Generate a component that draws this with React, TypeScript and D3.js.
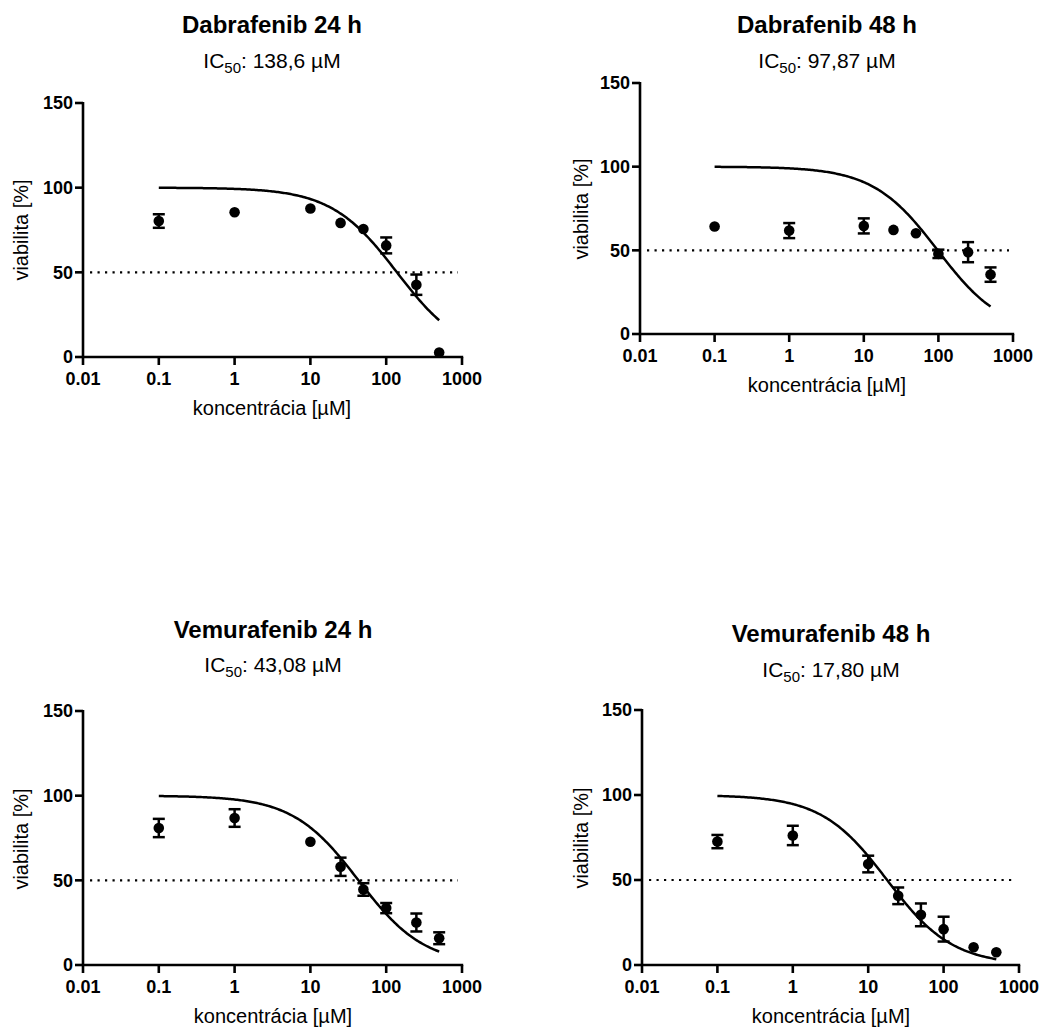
import React from "react";
import * as d3 from "d3";

const concentrations = [0.1, 1, 10, 25, 50, 100, 250, 500];

const dab24Mean = [80.3, 85.5, 87.7, 79.2, 75.6, 65.9, 42.7, 2.6];
const dab24Err = [4.0, 0, 0, 0, 0, 4.7, 6.0, 0];
const dab48Mean = [64.2, 61.8, 64.6, 62.2, 60.2, 47.9, 48.9, 35.5];
const dab48Err = [0, 4.5, 4.5, 0, 0, 2.5, 6.0, 4.3];
const vem24Mean = [80.9, 86.8, 72.8, 58.0, 44.6, 33.6, 25.1, 15.8];
const vem24Err = [5.4, 5.2, 0, 5.4, 3.7, 3.0, 5.3, 3.5];
const vem48Mean = [72.6, 76.2, 59.4, 40.7, 29.5, 21.1, 10.4, 7.5];
const vem48Err = [3.9, 5.7, 4.9, 4.9, 6.7, 7.3, 0, 0];

const titles = ["Dabrafenib 24 h", "Dabrafenib 48 h", "Vemurafenib 24 h", "Vemurafenib 48 h"];
const ic50Values = [138.6, 97.87, 43.08, 17.8];
const ic50Labels = ["138,6", "97,87", "43,08", "17,80"];

const xTicks = [0.01, 0.1, 1, 10, 100, 1000];
const xTickLabels = ["0.01", "0.1", "1", "10", "100", "1000"];
const yTicks = [0, 50, 100, 150];
const xLabel = "koncentrácia [µM]";
const yLabel = "viabilita [%]";

const means = [dab24Mean, dab48Mean, vem24Mean, vem48Mean];
const errs = [dab24Err, dab48Err, vem24Err, vem48Err];

const layouts = [
  { x0: 83, x1: 462, yTop: 103, yBot: 357, cx: 272, titleY: 33, subY: 68, yLabX: 28, yLabCY: 230, xLabY: 415 },
  { x0: 640, x1: 1013, yTop: 83, yBot: 334, cx: 827, titleY: 33, subY: 68, yLabX: 588, yLabCY: 209, xLabY: 392 },
  { x0: 83, x1: 462, yTop: 711, yBot: 965, cx: 273, titleY: 638, subY: 672, yLabX: 28, yLabCY: 839, xLabY: 1023 },
  { x0: 642, x1: 1019, yTop: 710, yBot: 965, cx: 831, titleY: 642, subY: 677, yLabX: 588, yLabCY: 838, xLabY: 1023 },
];

const FONT = "'Liberation Sans', Arial, Helvetica, sans-serif";

function Panel({ idx }: { idx: number }) {
  const L = layouts[idx];
  const x = d3.scaleLog().domain([0.01, 1000]).range([L.x0, L.x1]);
  const y = d3.scaleLinear().domain([0, 150]).range([L.yBot, L.yTop]);
  const ic50 = ic50Values[idx];
  const fit = (c: number) => 100 / (1 + c / ic50);
  const curvePts = d3.range(0, 201).map((i) => {
    const lc = Math.log10(0.1) + (i / 200) * (Math.log10(500) - Math.log10(0.1));
    const c = Math.pow(10, lc);
    return [x(c), y(fit(c))] as [number, number];
  });
  const line = d3.line();
  const m = means[idx];
  const e = errs[idx];
  return (
    <g>
      <text x={L.cx} y={L.titleY} textAnchor="middle" fontFamily={FONT} fontWeight="bold" fontSize={24} fill="#000">
        {titles[idx]}
      </text>
      <text x={L.cx} y={L.subY} textAnchor="middle" fontFamily={FONT} fontSize={21} fill="#000">
        IC<tspan fontSize={15} dy={5}>50</tspan>
        <tspan dy={-5}>{": " + ic50Labels[idx] + " µM"}</tspan>
      </text>
      <line
        x1={L.x0 + 7}
        x2={L.x1 - 4}
        y1={y(50)}
        y2={y(50)}
        stroke="#000"
        strokeWidth={2.2}
        strokeDasharray="2.2,5.3"
      />
      <path d={line(curvePts) || ""} fill="none" stroke="#000" strokeWidth={2.5} />
      {concentrations.map((c, i) => {
        const px = x(c);
        const yt = y(m[i] + e[i]);
        const yb = y(m[i] - e[i]);
        return (
          <g key={i}>
            {e[i] > 0 && (
              <g>
                <line x1={px} x2={px} y1={yt} y2={yb} stroke="#000" strokeWidth={2.5} />
                <line x1={px - 6} x2={px + 6} y1={yt} y2={yt} stroke="#000" strokeWidth={2.5} />
                <line x1={px - 6} x2={px + 6} y1={yb} y2={yb} stroke="#000" strokeWidth={2.5} />
              </g>
            )}
            <circle cx={px} cy={y(m[i])} r={5.3} fill="#000" />
          </g>
        );
      })}
      <line x1={L.x0} x2={L.x0} y1={L.yTop - 1} y2={L.yBot + 1} stroke="#000" strokeWidth={2.6} />
      <line x1={L.x0 - 1} x2={L.x1 + 1.2} y1={L.yBot} y2={L.yBot} stroke="#000" strokeWidth={2.6} />
      {yTicks.map((t) => (
        <g key={"y" + t}>
          <line x1={L.x0 - 8} x2={L.x0} y1={y(t)} y2={y(t)} stroke="#000" strokeWidth={2.6} />
          <text x={L.x0 - 10} y={y(t)} dy="0.36em" textAnchor="end" fontFamily={FONT} fontWeight="bold" fontSize={18} fill="#000">
            {t}
          </text>
        </g>
      ))}
      {xTicks.map((t, i) => (
        <g key={"x" + t}>
          <line x1={x(t)} x2={x(t)} y1={L.yBot} y2={L.yBot + 8} stroke="#000" strokeWidth={2.6} />
          <text x={x(t)} y={L.yBot + 28} textAnchor="middle" fontFamily={FONT} fontWeight="bold" fontSize={18} fill="#000">
            {xTickLabels[i]}
          </text>
        </g>
      ))}
      <text x={L.cx} y={L.xLabY} textAnchor="middle" fontFamily={FONT} fontSize={20} fill="#000">
        {xLabel}
      </text>
      <text
        transform={`translate(${L.yLabX},${L.yLabCY}) rotate(-90)`}
        textAnchor="middle"
        fontFamily={FONT}
        fontSize={20}
        fill="#000"
      >
        {yLabel}
      </text>
    </g>
  );
}

export default function App() {
  return (
    <svg
      width={1046}
      height={1027}
      style={{ position: "absolute", left: 0, top: 0, background: "#fff" }}
    >
      <rect x={0} y={0} width={1046} height={1027} fill="#fff" />
      {[0, 1, 2, 3].map((i) => (
        <Panel key={i} idx={i} />
      ))}
    </svg>
  );
}
